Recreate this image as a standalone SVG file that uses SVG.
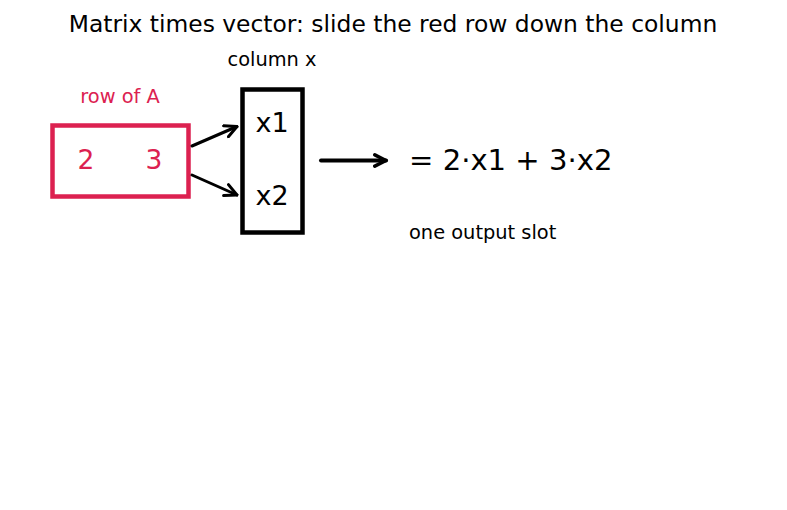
<svg xmlns="http://www.w3.org/2000/svg" width="787" height="510" viewBox="0 0 787 510">
<defs>
<style>
text{font-family:"DejaVu Sans","Liberation Sans",sans-serif;fill:#000}
.red{fill:#dc2150}
.box{fill:#fff;stroke-width:4.5}
.conn{stroke:#000;fill:none;stroke-linecap:round}
</style>
<marker id="ah" viewBox="0 0 10 10" refX="9" refY="5" markerWidth="5" markerHeight="5" orient="auto" markerUnits="strokeWidth">
<path d="M1,1 L9,5 L1,9" fill="none" stroke="#000" stroke-width="2" stroke-linecap="round" stroke-linejoin="round"/>
</marker>
<marker id="ah2" viewBox="0 0 10 10" refX="8.5" refY="5" markerWidth="4" markerHeight="4" orient="auto" markerUnits="strokeWidth">
<path d="M1.5,1.5 L8.5,5 L1.5,8.5" fill="none" stroke="#000" stroke-width="2.2" stroke-linecap="round" stroke-linejoin="round"/>
</marker>
</defs>
<rect width="787" height="510" fill="#fff"/>
<text x="393" y="32" font-size="23.4" text-anchor="middle">Matrix times vector: slide the red row down the column</text>
<g id="row">
<text class="red" x="120" y="103" font-size="19.4" text-anchor="middle">row of A</text>
<rect class="box" x="52.5" y="125.5" width="136" height="71" stroke="#dc2150"/>
<text class="red" x="86" y="169" font-size="26.5" text-anchor="middle">2</text>
<text class="red" x="154" y="169" font-size="26.5" text-anchor="middle">3</text>
</g>
<g id="column">
<text x="272" y="66" font-size="19.4" text-anchor="middle">column x</text>
<rect class="box" x="242.5" y="89.5" width="60" height="143" stroke="#000"/>
<text x="272" y="132" font-size="27" text-anchor="middle">x1</text>
<text x="272" y="205" font-size="27" text-anchor="middle">x2</text>
</g>
<g id="result">
<text x="409" y="170" font-size="29.1">= 2·x1 + 3·x2</text>
<text x="409" y="239" font-size="19.4">one output slot</text>
</g>
<g id="connectors">
<line class="conn" x1="192" y1="146" x2="237" y2="126.5" stroke-width="3" marker-end="url(#ah)"/>
<line class="conn" x1="192" y1="175" x2="237" y2="195" stroke-width="3" marker-end="url(#ah)"/>
<line class="conn" x1="321" y1="160.5" x2="386" y2="160.5" stroke-width="4" marker-end="url(#ah2)"/>
</g>
</svg>
